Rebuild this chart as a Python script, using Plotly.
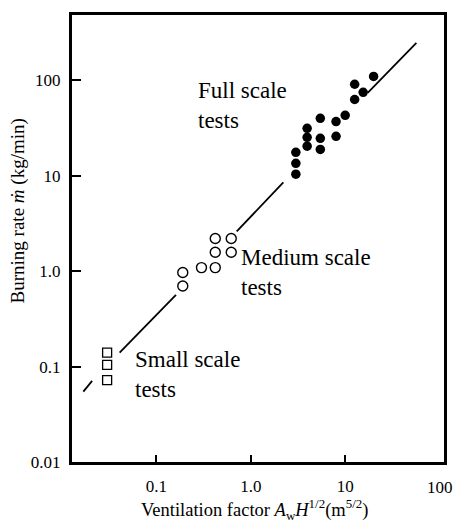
import plotly.graph_objects as go

# Burning rate vs. ventilation factor, three test scales
small_x = [0.030, 0.030, 0.030]
small_y = [0.140, 0.104, 0.072]

medium_x = [0.19, 0.19, 0.30, 0.42, 0.42, 0.42, 0.62, 0.62]
medium_y = [0.97, 0.70, 1.09, 1.09, 2.2, 1.58, 2.2, 1.58]

full_x = [3.0, 3.0, 3.0, 3.95, 3.95, 3.95, 5.45, 5.45, 5.45, 8.0, 8.0, 10.0, 12.6, 12.6, 15.5, 20.0]
full_y = [17.6, 13.5, 10.4, 31.4, 25.3, 20.4, 40.0, 24.7, 18.9, 37.0, 25.9, 43.0, 91.0, 63.0, 75.0, 110.0]

# correlation line, drawn in pieces that stop short of the data clusters
line_x = [0.0168, 0.0208, None, 0.0407, 0.161, None, 0.709, 2.21, None, 17.3, 56.8]
line_y = [0.0547, 0.0708, None, 0.140, 0.565, None, 2.61, 8.53, None, 74.0, 247.0]

x_ticks = [0.1, 1, 10]
x_tick_text = ["0.1", "1.0", "10"]
y_ticks = [0.01, 0.1, 1, 10, 100]
y_tick_text = ["0.01", "0.1", "1.0", "10", "100"]

SERIF = "Liberation Serif, Times New Roman, serif"

fig = go.Figure()
fig.add_trace(go.Scatter(x=line_x, y=line_y, mode="lines",
                         line=dict(color="black", width=1.8), connectgaps=False,
                         hoverinfo="skip"))
fig.add_trace(go.Scatter(x=small_x, y=small_y, mode="markers",
                         marker=dict(symbol="square-open", size=9, color="black",
                                     line=dict(width=1.3))))
fig.add_trace(go.Scatter(x=medium_x, y=medium_y, mode="markers",
                         marker=dict(symbol="circle-open", size=10, color="black",
                                     line=dict(width=1.4))))
fig.add_trace(go.Scatter(x=full_x, y=full_y, mode="markers",
                         marker=dict(symbol="circle", size=9.5, color="black")))

labels = [
    ("Full scale<br>tests", 0.333, 0.798),
    ("Medium scale<br>tests", 0.448, 0.425),
    ("Small scale<br>tests", 0.165, 0.195),
]
annotations = []
for txt, px, py in labels:
    annotations.append(dict(text=txt, x=px, y=py, xref="paper", yref="paper",
                            xanchor="left", yanchor="middle", align="left",
                            showarrow=False, font=dict(family=SERIF, size=23, color="black")))

# x-axis label for the last decade (no tick mark drawn against the frame)
annotations.append(dict(text="100", x=2, y=-0.056, xref="x", yref="paper",
                        xanchor="center", yanchor="middle", showarrow=False,
                        font=dict(family=SERIF, size=17, color="black")))
annotations.append(dict(text="Ventilation factor <i>A</i><sub>w</sub><i>H</i><sup>1/2</sup>(m<sup>5/2</sup>)",
                        x=0.49, y=-0.107, xref="paper", yref="paper",
                        xanchor="center", yanchor="middle", showarrow=False,
                        font=dict(family=SERIF, size=18.5, color="black")))
annotations.append(dict(text="Burning rate <i>ṁ</i> (kg/min)",
                        x=-0.144, y=0.5615, xref="paper", yref="paper", textangle=-90,
                        xanchor="center", yanchor="middle", showarrow=False,
                        font=dict(family=SERIF, size=19, color="black")))

fig.update_layout(
    width=455, height=524,
    margin=dict(l=72, r=8, t=15, b=62),
    paper_bgcolor="white", plot_bgcolor="white",
    showlegend=False,
    annotations=annotations,
    font=dict(family=SERIF, size=17, color="black"),
)
fig.update_xaxes(type="log", range=[-1.895, 2.047],
                 tickvals=x_ticks, ticktext=x_tick_text,
                 ticks="inside", ticklen=7, tickwidth=2, tickcolor="black",
                 ticklabelstandoff=7,
                 showline=True, linecolor="black", linewidth=3, mirror=True,
                 showgrid=False, zeroline=False,
                 tickfont=dict(family=SERIF, size=17, color="black"))
fig.update_yaxes(type="log", range=[-2, 2.685],
                 tickvals=y_ticks, ticktext=y_tick_text,
                 ticks="inside", ticklen=9, tickwidth=2, tickcolor="black",
                 ticklabelstandoff=5,
                 showline=True, linecolor="black", linewidth=3, mirror=True,
                 showgrid=False, zeroline=False,
                 tickfont=dict(family=SERIF, size=17, color="black"))

fig.write_html("out.html")
